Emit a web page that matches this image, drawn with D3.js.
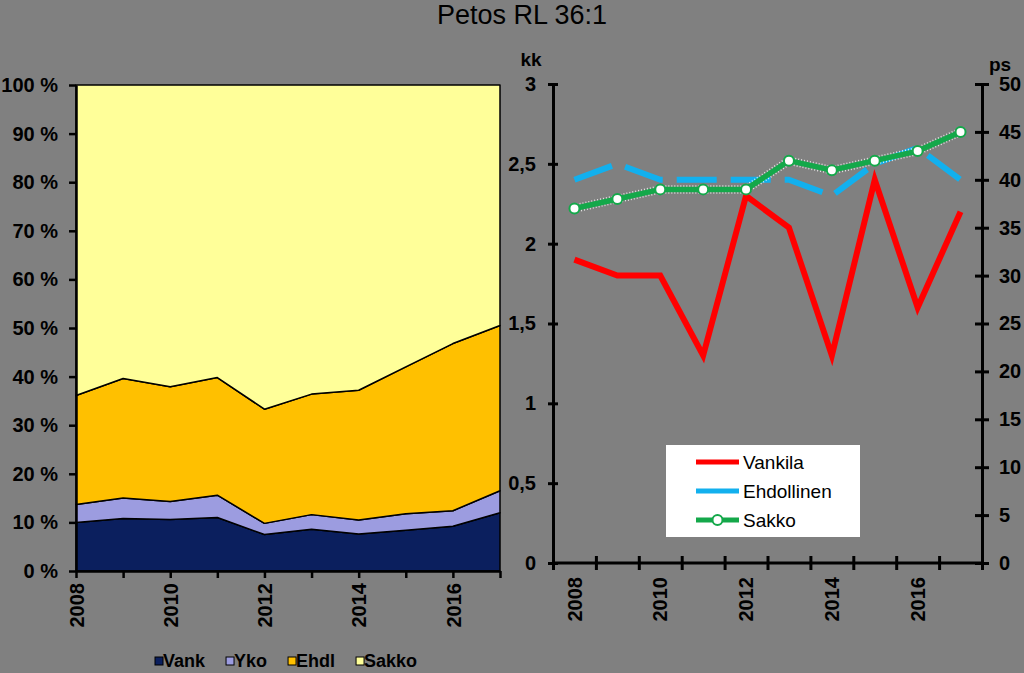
<!DOCTYPE html>
<html>
<head>
<meta charset="utf-8">
<script src="https://cdn.jsdelivr.net/npm/d3@7"></script>
<style>
  html, body { margin: 0; padding: 0; background: #808080; }
  svg { display: block; }
  text { font-family: Arial, "Liberation Sans", sans-serif; }
</style>
</head>
<body>
<svg id="chart" width="1024" height="673"></svg>
<script>
// ---------- DATA ----------
const title = "Petos RL 36:1";
const years = [2008, 2009, 2010, 2011, 2012, 2013, 2014, 2015, 2016, 2017];

// Left: shares (%) of sanctions
const areaKeys = ["Vank", "Yko", "Ehdl", "Sakko"];
const vank  = [10.0, 10.8, 10.6, 11.0, 7.5, 8.6, 7.6, 8.4, 9.2, 12.0];
const yko   = [3.7, 4.2, 3.7, 4.6, 2.3, 3.0, 2.9, 3.4, 3.2, 4.5];
const ehdl  = [22.4, 24.6, 23.6, 24.2, 23.5, 24.8, 26.7, 30.2, 34.4, 34.0];
const sakko = [63.9, 60.4, 62.1, 60.2, 66.7, 63.6, 62.8, 58.0, 53.2, 49.5];
const pctTicks = [0, 10, 20, 30, 40, 50, 60, 70, 80, 90, 100];

// Right: lengths
const lineNames = ["Vankila", "Ehdollinen", "Sakko"];
const vankilaKk    = [1.9, 1.8, 1.8, 1.3, 2.3, 2.1, 1.3, 2.4, 1.6, 2.2];
const ehdollinenKk = [2.4, 2.5, 2.4, 2.4, 2.4, 2.4, 2.3, 2.5, 2.6, 2.4];
const sakkoPs      = [37, 38, 39, 39, 39, 42, 41, 42, 43, 45];
const kkTicks = [0, 0.5, 1, 1.5, 2, 2.5, 3];
const psTicks = [0, 5, 10, 15, 20, 25, 30, 35, 40, 45, 50];
const yearLabels = [2008, 2010, 2012, 2014, 2016];

// ---------- STYLE ----------
const areaColors = { Vank: "#0b1f5e", Yko: "#9c9ce0", Ehdl: "#ffc000", Sakko: "#ffff99" };
const lineColors = { Vankila: "#ff0000", Ehdollinen: "#12b0ee", Sakko: "#14a84a" };

const svg = d3.select("#chart");

svg.append("text")
  .attr("x", 522).attr("y", 24)
  .attr("text-anchor", "middle")
  .attr("font-size", 27)
  .attr("fill", "#000")
  .text(title);

// ---------- LEFT CHART ----------
const L = { left: 76, right: 500, top: 85, bottom: 571 };
const xL = d3.scaleLinear().domain([years[0], years[years.length - 1]]).range([L.left, L.right]);
const yPct = d3.scaleLinear().domain([0, 1]).range([L.bottom, L.top]);

const rows = years.map((y, i) => ({ year: y, Vank: vank[i], Yko: yko[i], Ehdl: ehdl[i], Sakko: sakko[i] }));
const stacked = d3.stack().keys(areaKeys).offset(d3.stackOffsetExpand)(rows);

const area = d3.area()
  .x(d => xL(d.data.year))
  .y0(d => yPct(d[0]))
  .y1(d => yPct(d[1]));

const gL = svg.append("g");
gL.selectAll("path.area")
  .data(stacked)
  .join("path")
  .attr("class", "area")
  .attr("d", area)
  .attr("fill", d => areaColors[d.key])
  .attr("stroke", "#000")
  .attr("stroke-width", 1.5)
  .attr("stroke-linejoin", "round");

// left y axis
const axYL = gL.append("g")
  .attr("transform", `translate(${L.left},0)`)
  .call(d3.axisLeft(yPct).tickValues(pctTicks.map(v => v / 100))
    .tickFormat(d => Math.round(d * 100) + " %").tickSizeInner(7).tickSizeOuter(0).tickPadding(11));
// left x axis
const axXL = gL.append("g")
  .attr("transform", `translate(0,${L.bottom})`)
  .call(d3.axisBottom(xL).tickValues(years)
    .tickFormat(d => yearLabels.includes(d) ? String(d) : "").tickSizeInner(7).tickSizeOuter(0));
axXL.selectAll(".tick text")
  .attr("transform", "rotate(-90)")
  .attr("x", -12).attr("y", 0).attr("dy", "0.36em")
  .attr("text-anchor", "end");

[axYL, axXL].forEach(a => {
  a.select(".domain").attr("stroke", "#000").attr("stroke-width", 2.5);
  a.selectAll(".tick line").attr("stroke", "#000").attr("stroke-width", 2.5);
  a.selectAll(".tick text").attr("fill", "#000").attr("font-size", 20).attr("font-weight", "bold")
    .attr("font-family", "Arial, 'Liberation Sans', sans-serif");
});

// bottom legend for areas
const legB = svg.append("g").attr("transform", "translate(155,661)");
let lx = 0;
areaKeys.forEach(k => {
  const g = legB.append("g").attr("transform", `translate(${lx},0)`);
  g.append("rect").attr("x", 0).attr("y", -4).attr("width", 8).attr("height", 8)
    .attr("fill", areaColors[k]).attr("stroke", "#000").attr("stroke-width", 1);
  const t = g.append("text").attr("x", 8).attr("y", 0).attr("dy", "0.35em")
    .attr("font-size", 18).attr("font-weight", "bold").attr("fill", "#000").text(k);
  lx += 8 + t.node().getComputedTextLength() + 21;
});

// ---------- RIGHT CHART ----------
const R = { left: 553, right: 982, top: 84, bottom: 563 };
const xR = d3.scaleBand().domain(years).range([R.left, R.right]);
const yKk = d3.scaleLinear().domain([0, 3]).range([R.bottom, R.top]);
const yPs = d3.scaleLinear().domain([0, 50]).range([R.bottom, R.top]);
const cx = y => xR(y) + xR.bandwidth() / 2;

const gR = svg.append("g");

const axKk = gR.append("g").attr("transform", `translate(${R.left},0)`)
  .call(d3.axisLeft(yKk).tickValues(kkTicks).tickFormat(d => String(d).replace(".", ","))
    .tickSizeInner(5).tickSizeOuter(0).tickPadding(12));
axKk.selectAll(".tick line").attr("x1", -5).attr("x2", 5);

const axPs = gR.append("g").attr("transform", `translate(${R.right},0)`)
  .call(d3.axisRight(yPs).tickValues(psTicks).tickSizeInner(7).tickSizeOuter(0).tickPadding(10));
axPs.selectAll(".tick line").attr("x1", -7).attr("x2", 7);

const bandEdges = years.map(y => xR(y)).concat([R.right]);
const xEdge = d3.scaleLinear().domain([0, 1]).range([0, 1]);
const axXR = gR.append("g").attr("transform", `translate(0,${R.bottom})`)
  .call(d3.axisBottom(xEdge).tickValues(bandEdges).tickFormat("").tickSizeInner(7).tickSizeOuter(0));
axXR.select(".domain").attr("d", `M${R.left},0H${R.right}`);
axXR.selectAll(".tick line").attr("y1", -7).attr("y2", 7);
gR.append("g").selectAll("text")
  .data(yearLabels)
  .join("text")
  .attr("transform", d => `translate(${cx(d)},${R.bottom + 14}) rotate(-90)`)
  .attr("text-anchor", "end").attr("dy", "0.36em")
  .attr("font-size", 20).attr("font-weight", "bold").attr("fill", "#000")
  .text(d => d);

[axKk, axPs, axXR].forEach(a => {
  a.select(".domain").attr("stroke", "#000").attr("stroke-width", 3);
  a.selectAll(".tick line").attr("stroke", "#000").attr("stroke-width", 3);
  a.selectAll(".tick text").attr("fill", "#000").attr("font-size", 20).attr("font-weight", "bold")
    .attr("font-family", "Arial, 'Liberation Sans', sans-serif");
});

gR.append("text").attr("x", 531).attr("y", 66).attr("text-anchor", "middle")
  .attr("font-size", 19).attr("font-weight", "bold").attr("fill", "#000").text("kk");
gR.append("text").attr("x", 1000).attr("y", 71).attr("text-anchor", "middle")
  .attr("font-size", 19).attr("font-weight", "bold").attr("fill", "#000").text("ps");

const lineKk = d3.line().x((d, i) => cx(years[i])).y(d => yKk(d));
const linePs = d3.line().x((d, i) => cx(years[i])).y(d => yPs(d));

// Ehdollinen (dashed)
gR.append("path").attr("d", lineKk(ehdollinenKk))
  .attr("fill", "none").attr("stroke", lineColors.Ehdollinen).attr("stroke-width", 6)
  .attr("stroke-dasharray", "40,14").attr("stroke-linecap", "butt").attr("stroke-linejoin", "round");

// Vankila
gR.append("path").attr("d", lineKk(vankilaKk))
  .attr("fill", "none").attr("stroke", lineColors.Vankila).attr("stroke-width", 6)
  .attr("stroke-linejoin", "miter");

// Sakko (right axis)
gR.append("path").attr("d", linePs(sakkoPs))
  .attr("fill", "none").attr("stroke", "#ffffff").attr("stroke-width", 8.5)
  .attr("stroke-dasharray", "1,2").attr("stroke-opacity", 0.8);
gR.append("path").attr("d", linePs(sakkoPs))
  .attr("fill", "none").attr("stroke", lineColors.Sakko).attr("stroke-width", 5.5);
gR.append("g").selectAll("circle")
  .data(sakkoPs)
  .join("circle")
  .attr("cx", (d, i) => cx(years[i]))
  .attr("cy", d => yPs(d))
  .attr("r", 5)
  .attr("fill", "#fff")
  .attr("stroke", lineColors.Sakko)
  .attr("stroke-width", 2);

// legend box
const lg = svg.append("g").attr("transform", "translate(666,445)");
lg.append("rect").attr("width", 194).attr("height", 92).attr("fill", "#fff");
const legRows = [
  { name: lineNames[0], y: 17 },
  { name: lineNames[1], y: 46 },
  { name: lineNames[2], y: 75 }
];
legRows.forEach(r => {
  lg.append("line").attr("x1", 30).attr("x2", 73).attr("y1", r.y).attr("y2", r.y)
    .attr("stroke", lineColors[r.name]).attr("stroke-width", 5);
  if (r.name === "Sakko") {
    lg.append("circle").attr("cx", 51.5).attr("cy", r.y).attr("r", 5)
      .attr("fill", "#fff").attr("stroke", lineColors.Sakko).attr("stroke-width", 2);
  }
  lg.append("text").attr("x", 77).attr("y", r.y).attr("dy", "0.36em")
    .attr("font-size", 19).attr("fill", "#000").text(r.name);
});
</script>
</body>
</html>
